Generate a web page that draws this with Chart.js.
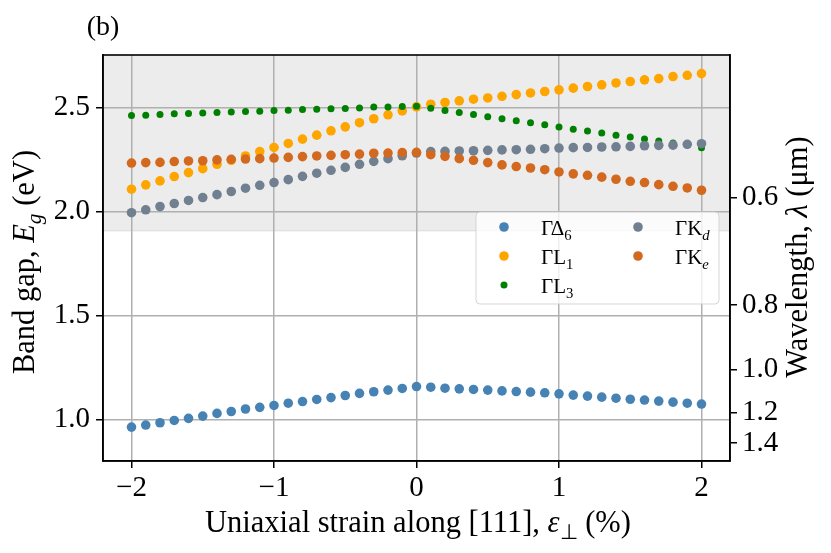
<!DOCTYPE html>
<html><head><meta charset="utf-8">
<script src="https://cdn.jsdelivr.net/npm/chart.js@4.4.1/dist/chart.umd.min.js"></script>
<style>html,body{margin:0;padding:0;background:#fff;}canvas{display:block;}</style>
</head><body>
<canvas id="c" width="831" height="553"></canvas>
<script>
const strain = [-2.0,-1.9,-1.8,-1.7,-1.6,-1.5,-1.4,-1.3,-1.2,-1.1,-1.0,-0.9,-0.8,-0.7,-0.6,-0.5,-0.4,-0.3,-0.2,-0.1,0.0,
  0.1,0.2,0.3,0.4,0.5,0.6,0.7,0.8,0.9,1.0,1.1,1.2,1.3,1.4,1.5,1.6,1.7,1.8,1.9,2.0];
const gD6 = [0.963,0.973,0.984,0.995,1.005,1.016,1.029,1.038,1.050,1.058,1.067,1.078,1.086,1.096,1.105,1.115,1.125,1.133,1.141,1.149,1.158,
  1.155,1.150,1.147,1.144,1.141,1.137,1.134,1.131,1.128,1.123,1.117,1.112,1.107,1.102,1.097,1.093,1.088,1.083,1.078,1.074];
const gL1 = [2.107,2.128,2.147,2.168,2.187,2.206,2.227,2.246,2.267,2.288,2.308,2.327,2.348,2.367,2.388,2.407,2.427,2.446,2.465,2.484,2.503,
  2.516,2.524,2.532,2.540,2.546,2.554,2.562,2.570,2.577,2.585,2.593,2.601,2.609,2.618,2.625,2.633,2.639,2.649,2.655,2.663];
const gL3 = [2.462,2.463,2.466,2.470,2.471,2.473,2.476,2.478,2.481,2.482,2.486,2.487,2.490,2.492,2.494,2.495,2.498,2.502,2.503,2.505,2.506,
  2.497,2.486,2.476,2.466,2.455,2.446,2.436,2.427,2.417,2.406,2.396,2.387,2.377,2.367,2.358,2.348,2.339,2.329,2.320,2.307];
const gKd = [1.994,2.008,2.024,2.038,2.053,2.067,2.081,2.096,2.112,2.126,2.139,2.153,2.169,2.184,2.198,2.212,2.227,2.241,2.254,2.268,2.281,
  2.288,2.289,2.291,2.292,2.294,2.296,2.297,2.299,2.302,2.305,2.307,2.308,2.310,2.311,2.313,2.316,2.318,2.319,2.323,2.326];
const gKe = [2.233,2.235,2.236,2.240,2.243,2.244,2.248,2.251,2.252,2.254,2.257,2.260,2.264,2.267,2.270,2.273,2.276,2.280,2.281,2.283,2.284,
  2.273,2.265,2.254,2.246,2.235,2.224,2.216,2.209,2.201,2.190,2.181,2.174,2.165,2.155,2.145,2.139,2.129,2.121,2.113,2.102];
const xTicks = [-2,-1,0,1,2];
const yTicks = [1.0,1.5,2.0,2.5];
const wlTicks = [0.6,0.8,1.0,1.2,1.4];
const HC = 1.23984;          // eV·µm
const visibleEdgeWl = 0.65;  // shaded band: λ below this
const seriesNames = ['ΓΔ','ΓL','ΓL','ΓK','ΓK'];
const seriesSubs = ['6','1','3','d','e'];
const seriesSubItalic = [false,false,false,true,true];
const seriesColors = ['#4682B4','#FFA500','#008000','#708090','#D2691E'];
const seriesValues = [gD6,gL1,gL3,gKd,gKe];
const seriesRadius = [4.8,4.8,3.5,4.8,4.8];

const SERIF = "'Liberation Serif','Times New Roman',serif";

function drawRich(ctx, parts, x, y, size, rot) {
  const fontOf = p => (p.it ? 'italic ' : '') + (p.sub ? size*0.7 : size) + 'px ' + SERIF;
  let total = 0;
  parts.forEach(p => { ctx.font = fontOf(p); p.w = ctx.measureText(p.t).width; total += p.w; });
  ctx.save();
  ctx.translate(x, y);
  if (rot) ctx.rotate(rot);
  ctx.fillStyle = '#000';
  ctx.textBaseline = 'alphabetic';
  ctx.textAlign = 'left';
  let cx = -total/2;
  parts.forEach(p => { ctx.font = fontOf(p); ctx.fillText(p.t, cx, p.sub ? size*0.22 : 0); cx += p.w; });
  ctx.restore();
}

const decor = {
  id: 'decor',
  beforeDraw(chart) {
    const ctx = chart.ctx, ca = chart.chartArea, ys = chart.scales.y;
    const yb = ys.getPixelForValue(HC/visibleEdgeWl);
    ctx.save();
    ctx.fillStyle = 'rgba(128,128,128,0.15)';
    ctx.fillRect(ca.left, ca.top, ca.right-ca.left, yb-ca.top);
    ctx.strokeStyle = 'rgba(128,128,128,0.15)';
    ctx.lineWidth = 1.5;
    ctx.beginPath(); ctx.moveTo(ca.left, yb); ctx.lineTo(ca.right, yb); ctx.stroke();
    ctx.restore();
  },
  afterDraw(chart) {
    const ctx = chart.ctx, ca = chart.chartArea;
    ctx.save();
    ctx.strokeStyle = '#000'; ctx.lineWidth = 1.6;
    ctx.strokeRect(ca.left, ca.top, ca.right-ca.left, ca.bottom-ca.top);
    // legend
    const lx0 = ca.right - 254, ly0 = ca.top + 157, lw = 243, lh = 92;
    ctx.beginPath();
    ctx.roundRect(lx0, ly0, lw, lh, 4);
    ctx.fillStyle = 'rgba(255,255,255,0.8)'; ctx.fill();
    ctx.strokeStyle = 'rgba(204,204,204,0.8)'; ctx.lineWidth = 1; ctx.stroke();
    const colMarkX = [lx0+28, lx0+162], colTextX = [lx0+65, lx0+199];
    const rowY = [ly0+15, ly0+44, ly0+73];
    const pos = [[0,0],[0,1],[0,2],[1,0],[1,1]];
    const fs = 21;
    for (let i = 0; i < 5; i++) {
      const [c, r] = pos[i];
      ctx.beginPath();
      ctx.arc(colMarkX[c], rowY[r], seriesRadius[i], 0, Math.PI*2);
      ctx.fillStyle = seriesColors[i]; ctx.fill();
      ctx.fillStyle = '#000'; ctx.textBaseline = 'alphabetic'; ctx.textAlign = 'left';
      ctx.font = fs + 'px ' + SERIF;
      ctx.fillText(seriesNames[i], colTextX[c], rowY[r] + 8);
      const w = ctx.measureText(seriesNames[i]).width;
      ctx.font = (seriesSubItalic[i] ? 'italic ' : '') + (fs*0.7) + 'px ' + SERIF;
      ctx.fillText(seriesSubs[i], colTextX[c] + w, rowY[r] + 8 + fs*0.22);
    }
    ctx.restore();
    // titles
    drawRich(ctx, [{t:'Uniaxial strain along [111], '},{t:'ε',it:true},{t:'⊥',sub:true},{t:' (%)'}], 418, 532, 30.5, 0);
    drawRich(ctx, [{t:'Band gap, '},{t:'E',it:true},{t:'g',it:true,sub:true},{t:' (eV)'}], 34, 262, 30.5, -Math.PI/2);
    drawRich(ctx, [{t:'Wavelength, '},{t:'λ',it:true},{t:' (μm)'}], 807, 257, 30.5, -Math.PI/2);
    drawRich(ctx, [{t:'(b)'}], 103, 35, 28, 0);
  }
};

const tickFont = {family: SERIF, size: 29};
const gridBase = {color:'#b0b0b0', lineWidth:1.5, tickLength:7, tickColor:'#000', tickWidth:1.5};

new Chart(document.getElementById('c'), {
  type: 'scatter',
  data: {
    datasets: seriesValues.map((vals, i) => ({
      label: seriesNames[i] + seriesSubs[i],
      data: strain.map((x, k) => ({x, y: vals[k]})),
      backgroundColor: seriesColors[i],
      borderColor: seriesColors[i],
      borderWidth: 0,
      pointRadius: seriesRadius[i],
      pointHoverRadius: seriesRadius[i],
      order: seriesValues.length - i
    }))
  },
  options: {
    responsive: false,
    animation: false,
    events: [],
    layout: {padding: {top: 55, left: 0, right: 0, bottom: 0}},
    plugins: {legend: {display: false}, tooltip: {enabled: false}},
    scales: {
      x: {
        type: 'linear', min: -2.2, max: 2.2,
        afterBuildTicks: s => { s.ticks = xTicks.map(v => ({value: v})); },
        afterFit: s => { s.height = 92; },
        ticks: {font: tickFont, color: '#000', padding: 3, maxRotation: 0, autoSkip: false,
          callback: v => v < 0 ? '−' + Math.abs(v) : String(v)},
        grid: gridBase,
        border: {display: true, color: '#000', width: 1.6}
      },
      y: {
        type: 'linear', position: 'left', min: 0.8, max: 2.7525,
        afterBuildTicks: s => { s.ticks = yTicks.map(v => ({value: v})); },
        afterFit: s => { s.width = 103; },
        ticks: {font: tickFont, color: '#000', padding: 6, autoSkip: false, callback: v => v.toFixed(1)},
        grid: gridBase,
        border: {display: true, color: '#000', width: 1.6}
      },
      y2: {
        type: 'linear', position: 'right', min: 0.8, max: 2.7525,
        afterBuildTicks: s => { s.ticks = wlTicks.map(w => ({value: HC / w})); },
        afterFit: s => { s.width = 101; },
        ticks: {font: tickFont, color: '#000', padding: 5, autoSkip: false, callback: v => (HC / v).toFixed(1)},
        grid: Object.assign({}, gridBase, {drawOnChartArea: false}),
        border: {display: true, color: '#000', width: 1.6}
      }
    }
  },
  plugins: [decor]
});
</script>
</body></html>
